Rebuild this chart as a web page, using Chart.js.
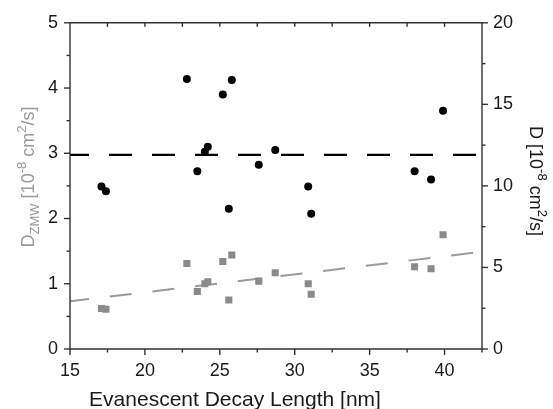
<!DOCTYPE html>
<html>
<head>
<meta charset="utf-8">
<script src="https://cdn.jsdelivr.net/npm/chart.js@4/dist/chart.umd.min.js"></script>
<style>
  html, body { margin: 0; padding: 0; background: #fff; }
  canvas { display: block; }
</style>
</head>
<body>
<canvas id="decay" width="553" height="409"></canvas>
<script>
// values
const decayLength = [17.1, 17.4, 22.8, 23.5, 24.0, 24.2, 25.2, 25.6, 25.8, 27.6, 28.7, 30.9, 31.1, 38.0, 39.1, 39.9];
const dBulk = [9.97, 9.67, 16.55, 10.9, 12.1, 12.4, 15.6, 8.6, 16.5, 11.3, 12.2, 9.97, 8.3, 10.9, 10.4, 14.6];
const dZmw = [0.62, 0.61, 1.31, 0.88, 1.0, 1.03, 1.34, 0.75, 1.44, 1.04, 1.17, 1.0, 0.84, 1.26, 1.23, 1.75];

// dashed guide lines (end points)
const lineX = [15, 42.5];
const bulkMean = [11.9, 11.9];
const zmwFit = [0.73, 1.49];

// tick labels
const xTicks = [15, 20, 25, 30, 35, 40];
const leftTicks = [0, 1, 2, 3, 4, 5];
const rightTicks = [0, 5, 10, 15, 20];

const axisColor = "#333";
const grayMark = "#8a8a8a";
const grayLine = "#9a9a9a";
const fontFamily = "'Liberation Sans', Arial, sans-serif";

function pts(xs, ys) {
  return xs.map((x, i) => ({ x: x, y: ys[i] }));
}

function seg(ctx, x1, y1, x2, y2) {
  ctx.beginPath();
  ctx.moveTo(x1, y1);
  ctx.lineTo(x2, y2);
  ctx.stroke();
}

// draws text with sub/superscript parts, centred on (x, y)
function drawRich(ctx, parts, x, y, angle, color) {
  ctx.save();
  ctx.translate(x, y);
  ctx.rotate(angle);
  ctx.fillStyle = color;
  ctx.textBaseline = "alphabetic";
  ctx.textAlign = "left";
  let total = 0;
  parts.forEach(p => {
    ctx.font = p.size + "px " + fontFamily;
    p.w = ctx.measureText(p.t).width;
    total += p.w;
  });
  let cx = -total / 2;
  parts.forEach(p => {
    ctx.font = p.size + "px " + fontFamily;
    ctx.fillText(p.t, cx, p.dy || 0);
    cx += p.w;
  });
  ctx.restore();
}

const framePlugin = {
  id: "frame",
  afterDraw(chart) {
    const { ctx, chartArea: a, scales } = chart;
    const x = scales.x, yl = scales.y, yr = scales.y2;
    ctx.save();
    ctx.strokeStyle = axisColor;
    ctx.lineWidth = 1.4;
    ctx.lineCap = "butt";
    seg(ctx, a.left, a.top, a.right, a.top);
    seg(ctx, a.left, a.bottom, a.right, a.bottom);
    seg(ctx, a.left, a.top, a.left, a.bottom + 0.7);
    seg(ctx, a.right, a.top - 0.7, a.right, a.bottom + 0.7);

    for (let i = 0; i <= 11; i++) {
      const v = 15 + i * 2.5;
      const px = x.getPixelForValue(v);
      const major = i % 2 === 0;
      seg(ctx, px, a.bottom, px, a.bottom + (major ? 6 : 3.5));
      if (i > 0 && i < 11) seg(ctx, px, a.top, px, a.top + 4);
    }
    for (let i = 0; i <= 10; i++) {
      const py = yl.getPixelForValue(i * 0.5);
      seg(ctx, a.left, py, a.left - (i % 2 === 0 ? 6 : 3.5), py);
    }
    for (let i = 0; i <= 8; i++) {
      const py = yr.getPixelForValue(i * 2.5);
      seg(ctx, a.right, py, a.right + (i % 2 === 0 ? 6 : 3.5), py);
    }
    ctx.restore();

    // axis titles
    ctx.save();
    ctx.fillStyle = "#1a1a1a";
    ctx.font = "21px " + fontFamily;
    ctx.textAlign = "center";
    ctx.textBaseline = "alphabetic";
    ctx.fillText("Evanescent Decay Length [nm]", 235, 406);
    ctx.restore();

    drawRich(ctx, [
      { t: "D", size: 18 },
      { t: "ZMW", size: 13, dy: 5 },
      { t: " [10", size: 18 },
      { t: "-8", size: 13, dy: -8 },
      { t: " cm", size: 18 },
      { t: "2", size: 13, dy: -8 },
      { t: "/s]", size: 18 }
    ], 34, 177, -Math.PI / 2, grayLine);

    drawRich(ctx, [
      { t: "D [10", size: 18 },
      { t: "-8", size: 13, dy: -8 },
      { t: " cm", size: 18 },
      { t: "2", size: 13, dy: -8 },
      { t: "/s]", size: 18 }
    ], 530, 181, Math.PI / 2, "#1a1a1a");
  }
};

const ctx = document.getElementById("decay").getContext("2d");

new Chart(ctx, {
  type: "scatter",
  data: {
    datasets: [
      {
        label: "D",
        data: pts(decayLength, dBulk),
        yAxisID: "y2",
        pointStyle: "circle",
        pointRadius: 4,
        backgroundColor: "#000",
        borderColor: "#000",
        borderWidth: 0,
      },
      {
        label: "D ZMW",
        data: pts(decayLength, dZmw),
        yAxisID: "y",
        pointStyle: "rect",
        pointRadius: 5,
        backgroundColor: grayMark,
        borderColor: grayMark,
        borderWidth: 0,
      },
      {
        type: "line",
        label: "D mean",
        data: pts(lineX, bulkMean),
        yAxisID: "y2",
        borderColor: "#000",
        borderWidth: 2.2,
        borderDash: [23, 20],
        borderDashOffset: 4,
        pointRadius: 0,
        fill: false,
      },
      {
        type: "line",
        label: "D ZMW fit",
        data: pts(lineX, zmwFit),
        yAxisID: "y",
        borderColor: grayLine,
        borderWidth: 2,
        borderDash: [22, 21],
        borderDashOffset: 3,
        pointRadius: 0,
        fill: false,
      },
    ],
  },
  options: {
    responsive: false,
    animation: false,
    layout: { padding: { top: 19, left: 0, right: 0, bottom: 0 } },
    plugins: {
      legend: { display: false },
      tooltip: { enabled: false },
    },
    scales: {
      x: {
        type: "linear",
        min: 15,
        max: 42.5,
        grid: { display: false, drawTicks: false },
        border: { display: false },
        afterBuildTicks: s => { s.ticks = xTicks.map(v => ({ value: v })); },
        afterFit: s => { s.height = 60; },
        ticks: {
          padding: 11,
          color: "#1a1a1a",
          font: { family: fontFamily, size: 18 },
          maxRotation: 0,
        },
      },
      y: {
        type: "linear",
        position: "left",
        min: 0,
        max: 5,
        grid: { display: false, drawTicks: false },
        border: { display: false },
        afterBuildTicks: s => { s.ticks = leftTicks.map(v => ({ value: v })); },
        afterFit: s => { s.width = 70; },
        ticks: {
          padding: 12,
          color: "#1a1a1a",
          font: { family: fontFamily, size: 18 },
        },
      },
      y2: {
        type: "linear",
        position: "right",
        min: 0,
        max: 20,
        grid: { display: false, drawTicks: false },
        border: { display: false },
        afterBuildTicks: s => { s.ticks = rightTicks.map(v => ({ value: v })); },
        afterFit: s => { s.width = 71; },
        ticks: {
          padding: 11,
          color: "#1a1a1a",
          font: { family: fontFamily, size: 18 },
        },
      },
    },
  },
  plugins: [framePlugin],
});
</script>
</body>
</html>
